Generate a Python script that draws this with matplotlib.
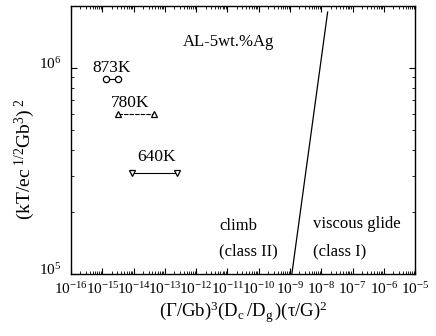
import matplotlib
matplotlib.use("Agg")
import matplotlib.pyplot as plt
import matplotlib.transforms as mtransforms
from matplotlib.ticker import LogLocator, NullFormatter

plt.rcParams['font.family'] = ['Liberation Serif', 'DejaVu Serif']
plt.rcParams['mathtext.fontset'] = 'custom'
plt.rcParams['mathtext.rm'] = 'Liberation Serif'
plt.rcParams['mathtext.it'] = 'Liberation Serif'
plt.rcParams['mathtext.bf'] = 'Liberation Serif:bold'

# data
temps = ["873K", "780K", "640K"]
x_lo = [1.3e-15, 3.2e-15, 9.0e-15]
x_hi = [3.2e-15, 4.5e-14, 2.5e-13]
y_vals = [8.85e5, 6.0e5, 3.1e5]
markers = ["o", "^", "v"]
line_styles = ["-", (0, (4, 1)), "-"]
label_pos = [(2.0e-15, 1.0e6), (7.7e-15, 6.76e5), (5.6e-14, 3.7e5)]

boundary_x = [1.15e-9, 1.6e-8]
boundary_y = [1.0e5, 1.87e6]

fig = plt.figure(figsize=(4.36, 3.36), dpi=100)
ax = fig.add_axes([0.163, 0.185, 0.789, 0.797])
ax.set_xscale('log')
ax.set_yscale('log')

for t, a, b, y, m, ls, pos in zip(temps, x_lo, x_hi, y_vals, markers, line_styles, label_pos):
    ax.plot([a, b], [y, y], color='black', lw=0.8, ls=ls, marker=m,
            ms=4.5, mfc='white', mec='black', mew=0.9)
    ax.text(pos[0], pos[1], t, fontsize=12.5, ha='center', va='center')

ax.plot(boundary_x, boundary_y, color='black', lw=0.9)

ax.text(1.05e-11, 1.34e6, "AL-5wt.%Ag", fontsize=12, ha='center', va='center')
ax.text(2.2e-11, 1.71e5, "climb", fontsize=12, ha='center', va='center')
ax.text(4.6e-11, 1.28e5, "(class II)", fontsize=12, ha='center', va='center')
ax.text(1.4e-7, 1.75e5, "viscous glide", fontsize=12, ha='center', va='center')
ax.text(4.0e-8, 1.29e5, "(class I)", fontsize=12, ha='center', va='center')

ax.set_xlim(1e-16, 1e-5)
ax.set_ylim(1e5, 2e6)
ax.xaxis.set_major_locator(LogLocator(base=10, numticks=20))
ax.xaxis.set_minor_locator(LogLocator(base=10, subs=range(2, 10), numticks=20))
ax.xaxis.set_minor_formatter(NullFormatter())
ax.yaxis.set_major_locator(LogLocator(base=10, numticks=10))
ax.yaxis.set_minor_locator(LogLocator(base=10, subs=range(2, 10), numticks=10))
ax.yaxis.set_minor_formatter(NullFormatter())

ax.tick_params(which='both', direction='in', top=True, right=True, labelsize=11)
ax.tick_params(axis='x', pad=5)
ax.tick_params(axis='y', pad=7)
ax.tick_params(which='major', length=4, width=0.8)
ax.tick_params(which='minor', length=2, width=0.6)
for s in ax.spines.values():
    s.set_linewidth(1.0)

# y tick labels sit a little above their ticks in the original
shift = mtransforms.ScaledTranslation(0, 4 / 72, fig.dpi_scale_trans)
for lab in ax.get_yticklabels():
    lab.set_transform(lab.get_transform() + shift)

ax.set_xlabel(r'$(\Gamma/\mathrm{Gb})^3(\mathrm{D_c\,/D_g\,})(\tau/\mathrm{G})^2$', fontsize=13.5, labelpad=2)
ax.set_ylabel(r'$(\mathrm{kT/ec}^{\ 1/2}\mathrm{Gb}^3)^{\ 2}$', fontsize=14)
ax.yaxis.set_label_coords(-0.10, 0.43)

fig.savefig("out.png", dpi=100)
